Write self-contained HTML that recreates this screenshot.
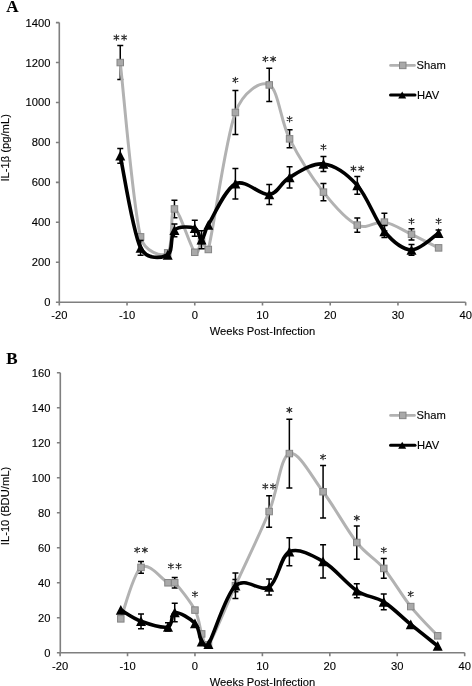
<!DOCTYPE html>
<html><head><meta charset="utf-8"><style>
html,body{margin:0;padding:0;background:#fff;width:472px;height:686px;overflow:hidden}
svg{display:block;will-change:transform;font-family:"Liberation Sans",sans-serif;font-size:11.2px;fill:#000}
text{stroke:#000;stroke-width:0.12px}
</style></head><body>
<svg width="472" height="686" viewBox="0 0 472 686">
<path d="M59.30,22.60V302.20H465.68" fill="none" stroke="#7f7f7f" stroke-width="1.6"/>
<path d="M55.90,302.20H59.30M55.90,262.26H59.30M55.90,222.32H59.30M55.90,182.37H59.30M55.90,142.43H59.30M55.90,102.49H59.30M55.90,62.55H59.30M55.90,22.61H59.30M59.30,302.20V305.60M127.03,302.20V305.60M194.76,302.20V305.60M262.49,302.20V305.60M330.22,302.20V305.60M397.95,302.20V305.60M465.68,302.20V305.60" fill="none" stroke="#7f7f7f" stroke-width="1.6"/>
<text x="50.50" y="306.20" text-anchor="end">0</text>
<text x="50.50" y="266.26" text-anchor="end">200</text>
<text x="50.50" y="226.32" text-anchor="end">400</text>
<text x="50.50" y="186.37" text-anchor="end">600</text>
<text x="50.50" y="146.43" text-anchor="end">800</text>
<text x="50.50" y="106.49" text-anchor="end">1000</text>
<text x="50.50" y="66.55" text-anchor="end">1200</text>
<text x="50.50" y="26.61" text-anchor="end">1400</text>
<text x="59.30" y="319.00" text-anchor="middle">-20</text>
<text x="127.03" y="319.00" text-anchor="middle">-10</text>
<text x="194.76" y="319.00" text-anchor="middle">0</text>
<text x="262.49" y="319.00" text-anchor="middle">10</text>
<text x="330.22" y="319.00" text-anchor="middle">20</text>
<text x="397.95" y="319.00" text-anchor="middle">30</text>
<text x="465.68" y="319.00" text-anchor="middle">40</text>
<path d="M60.30,372.70V652.80H464.68" fill="none" stroke="#7f7f7f" stroke-width="1.6"/>
<path d="M56.90,652.80H60.30M56.90,617.79H60.30M56.90,582.78H60.30M56.90,547.76H60.30M56.90,512.75H60.30M56.90,477.74H60.30M56.90,442.73H60.30M56.90,407.72H60.30M56.90,372.70H60.30M60.10,652.80V656.20M127.53,652.80V656.20M194.96,652.80V656.20M262.39,652.80V656.20M329.82,652.80V656.20M397.25,652.80V656.20M464.68,652.80V656.20" fill="none" stroke="#7f7f7f" stroke-width="1.6"/>
<text x="50.50" y="656.80" text-anchor="end">0</text>
<text x="50.50" y="621.79" text-anchor="end">20</text>
<text x="50.50" y="586.78" text-anchor="end">40</text>
<text x="50.50" y="551.76" text-anchor="end">60</text>
<text x="50.50" y="516.75" text-anchor="end">80</text>
<text x="50.50" y="481.74" text-anchor="end">100</text>
<text x="50.50" y="446.73" text-anchor="end">120</text>
<text x="50.50" y="411.72" text-anchor="end">140</text>
<text x="50.50" y="376.70" text-anchor="end">160</text>
<text x="60.10" y="670.00" text-anchor="middle">-20</text>
<text x="127.53" y="670.00" text-anchor="middle">-10</text>
<text x="194.96" y="670.00" text-anchor="middle">0</text>
<text x="262.39" y="670.00" text-anchor="middle">10</text>
<text x="329.82" y="670.00" text-anchor="middle">20</text>
<text x="397.25" y="670.00" text-anchor="middle">30</text>
<text x="464.68" y="670.00" text-anchor="middle">40</text>
<path d="M120.26,45.57V79.52M117.26,45.57H123.26M117.26,79.52H123.26M174.44,200.15V217.72M171.44,200.15H177.44M171.44,217.72H177.44M235.40,90.51V134.44M232.40,90.51H238.40M232.40,134.44H238.40M269.26,68.34V101.49M266.26,68.34H272.26M266.26,101.49H272.26M289.58,129.85V147.82M286.58,129.85H292.58M286.58,147.82H292.58M323.45,183.57V200.75M320.45,183.57H326.45M320.45,200.75H326.45M357.31,217.92V232.30M354.31,217.92H360.31M354.31,232.30H360.31M384.40,213.33V230.90M381.40,213.33H387.40M381.40,230.90H387.40M411.50,228.71V239.89M408.50,228.71H414.50M408.50,239.89H414.50" fill="none" stroke="#000" stroke-width="1.5"/>
<path d="M120.26,62.55 C123.64,91.61 132.67,205.17 140.58,236.89 C144.38,252.15 162.02,257.53 167.67,252.87 C173.31,248.21 169.93,209.04 174.44,208.94 C178.96,208.84 190.24,246.88 194.76,252.27 C198.90,257.22 199.28,241.75 201.53,241.29 C203.79,240.82 206.96,254.62 208.31,249.48 C213.95,228.01 225.24,139.90 235.40,112.48 C242.98,92.00 260.23,80.52 269.26,84.92 C278.29,89.31 280.55,120.96 289.58,138.84 C298.61,156.71 312.16,177.78 323.45,192.16 C334.74,206.54 347.15,220.12 357.31,225.11 C367.47,230.10 375.37,220.59 384.40,222.12 C393.43,223.65 402.47,230.00 411.50,234.30 C420.53,238.59 434.07,245.62 438.59,247.88" fill="none" stroke="#b2b2b2" stroke-width="3" stroke-linejoin="round"/>
<rect x="117.01" y="59.30" width="6.5" height="6.5" fill="#a9a9a9" stroke="#858585" stroke-width="1"/>
<rect x="137.33" y="233.64" width="6.5" height="6.5" fill="#a9a9a9" stroke="#858585" stroke-width="1"/>
<rect x="164.42" y="249.62" width="6.5" height="6.5" fill="#a9a9a9" stroke="#858585" stroke-width="1"/>
<rect x="171.19" y="205.69" width="6.5" height="6.5" fill="#a9a9a9" stroke="#858585" stroke-width="1"/>
<rect x="191.51" y="249.02" width="6.5" height="6.5" fill="#a9a9a9" stroke="#858585" stroke-width="1"/>
<rect x="198.28" y="238.04" width="6.5" height="6.5" fill="#a9a9a9" stroke="#858585" stroke-width="1"/>
<rect x="205.06" y="246.23" width="6.5" height="6.5" fill="#a9a9a9" stroke="#858585" stroke-width="1"/>
<rect x="232.15" y="109.23" width="6.5" height="6.5" fill="#a9a9a9" stroke="#858585" stroke-width="1"/>
<rect x="266.01" y="81.67" width="6.5" height="6.5" fill="#a9a9a9" stroke="#858585" stroke-width="1"/>
<rect x="286.33" y="135.59" width="6.5" height="6.5" fill="#a9a9a9" stroke="#858585" stroke-width="1"/>
<rect x="320.20" y="188.91" width="6.5" height="6.5" fill="#a9a9a9" stroke="#858585" stroke-width="1"/>
<rect x="354.06" y="221.86" width="6.5" height="6.5" fill="#a9a9a9" stroke="#858585" stroke-width="1"/>
<rect x="381.15" y="218.87" width="6.5" height="6.5" fill="#a9a9a9" stroke="#858585" stroke-width="1"/>
<rect x="408.25" y="231.05" width="6.5" height="6.5" fill="#a9a9a9" stroke="#858585" stroke-width="1"/>
<rect x="435.34" y="244.63" width="6.5" height="6.5" fill="#a9a9a9" stroke="#858585" stroke-width="1"/>
<path d="M120.26,148.42V163.20M117.26,148.42H123.26M117.26,163.20H123.26M140.58,240.49V255.27M137.58,240.49H143.58M137.58,255.27H143.58M174.44,223.91V236.70M171.44,223.91H177.44M171.44,236.70H177.44M194.76,220.32V236.30M191.76,220.32H197.76M191.76,236.30H197.76M201.53,230.70V248.68M198.53,230.70H204.53M198.53,248.68H204.53M235.40,168.59V198.95M232.40,168.59H238.40M232.40,198.95H238.40M269.26,184.57V204.54M266.26,184.57H272.26M266.26,204.54H272.26M289.58,166.80V187.97M286.58,166.80H292.58M286.58,187.97H292.58M323.45,156.41V171.59M320.45,156.41H326.45M320.45,171.59H326.45M357.31,176.38V194.36M354.31,176.38H360.31M354.31,194.36H360.31M384.40,225.51V237.49M381.40,225.51H387.40M381.40,237.49H387.40M411.50,244.48V255.27M408.50,244.48H414.50M408.50,255.27H414.50M438.59,230.10V236.10M435.59,230.10H441.59M435.59,236.10H441.59" fill="none" stroke="#000" stroke-width="1.5"/>
<path d="M120.26,155.81 C123.64,171.16 132.67,231.37 140.58,247.88 C146.62,260.50 162.02,257.80 167.67,254.87 C173.31,251.94 169.93,234.73 174.44,230.30 C178.96,225.88 190.24,226.74 194.76,228.31 C199.28,229.87 199.28,240.26 201.53,239.69 C203.79,239.12 204.10,231.86 208.31,224.91 C213.95,215.59 225.24,188.83 235.40,183.77 C245.56,178.71 260.23,195.62 269.26,194.56 C278.29,193.49 280.55,182.47 289.58,177.38 C298.61,172.29 312.16,162.67 323.45,164.00 C334.74,165.33 347.15,174.12 357.31,185.37 C367.47,196.62 375.37,220.75 384.40,231.50 C393.43,242.25 402.47,249.61 411.50,249.88 C420.53,250.14 434.07,235.90 438.59,233.10" fill="none" stroke="#000" stroke-width="3.6" stroke-linejoin="round"/>
<path d="M120.26,150.81L125.26,160.61L115.26,160.61Z" fill="#000"/>
<path d="M140.58,242.88L145.58,252.68L135.58,252.68Z" fill="#000"/>
<path d="M167.67,249.87L172.67,259.67L162.67,259.67Z" fill="#000"/>
<path d="M174.44,225.30L179.44,235.10L169.44,235.10Z" fill="#000"/>
<path d="M194.76,223.31L199.76,233.11L189.76,233.11Z" fill="#000"/>
<path d="M201.53,234.69L206.53,244.49L196.53,244.49Z" fill="#000"/>
<path d="M208.31,219.91L213.31,229.71L203.31,229.71Z" fill="#000"/>
<path d="M235.40,178.77L240.40,188.57L230.40,188.57Z" fill="#000"/>
<path d="M269.26,189.56L274.26,199.36L264.26,199.36Z" fill="#000"/>
<path d="M289.58,172.38L294.58,182.18L284.58,182.18Z" fill="#000"/>
<path d="M323.45,159.00L328.45,168.80L318.45,168.80Z" fill="#000"/>
<path d="M357.31,180.37L362.31,190.17L352.31,190.17Z" fill="#000"/>
<path d="M384.40,226.50L389.40,236.30L379.40,236.30Z" fill="#000"/>
<path d="M411.50,244.88L416.50,254.68L406.50,254.68Z" fill="#000"/>
<path d="M438.59,228.10L443.59,237.90L433.59,237.90Z" fill="#000"/>
<path d="M141.02,561.59V573.15M138.02,561.59H144.02M138.02,573.15H144.02M174.73,577.52V588.03M171.73,577.52H177.73M171.73,588.03H177.73M235.42,579.45V591.70M232.42,579.45H238.42M232.42,591.70H238.42M269.13,495.77V527.28M266.13,495.77H272.13M266.13,527.28H272.13M289.36,419.27V487.89M286.36,419.27H292.36M286.36,487.89H292.36M323.08,465.49V518.00M320.08,465.49H326.08M320.08,518.00H326.08M356.79,525.88V559.14M353.79,525.88H359.79M353.79,559.14H359.79M383.76,558.62V578.22M380.76,558.62H386.76M380.76,578.22H386.76" fill="none" stroke="#000" stroke-width="1.5"/>
<path d="M120.79,618.84 C124.16,610.26 133.15,573.38 141.02,567.37 C148.88,561.36 162.37,580.21 167.99,582.78 C171.05,584.18 172.36,580.38 174.73,582.78 C179.23,587.33 190.46,601.57 194.96,610.09 C199.46,618.60 199.46,628.09 201.70,633.89 C203.95,639.70 204.75,650.22 208.45,644.92 C214.07,636.87 225.30,607.81 235.42,585.58 C245.53,563.34 260.14,533.53 269.13,511.53 C278.12,489.53 280.37,456.88 289.36,453.58 C298.35,450.28 311.84,476.92 323.08,491.74 C334.32,506.57 346.68,529.73 356.79,542.51 C366.91,555.29 374.77,557.74 383.76,568.42 C392.75,579.10 401.75,595.35 410.74,606.58 C419.73,617.82 433.21,630.95 437.71,635.82" fill="none" stroke="#b2b2b2" stroke-width="3" stroke-linejoin="round"/>
<rect x="117.54" y="615.59" width="6.5" height="6.5" fill="#a9a9a9" stroke="#858585" stroke-width="1"/>
<rect x="137.77" y="564.12" width="6.5" height="6.5" fill="#a9a9a9" stroke="#858585" stroke-width="1"/>
<rect x="164.74" y="579.53" width="6.5" height="6.5" fill="#a9a9a9" stroke="#858585" stroke-width="1"/>
<rect x="171.48" y="579.53" width="6.5" height="6.5" fill="#a9a9a9" stroke="#858585" stroke-width="1"/>
<rect x="191.71" y="606.84" width="6.5" height="6.5" fill="#a9a9a9" stroke="#858585" stroke-width="1"/>
<rect x="198.45" y="630.64" width="6.5" height="6.5" fill="#a9a9a9" stroke="#858585" stroke-width="1"/>
<rect x="205.20" y="641.67" width="6.5" height="6.5" fill="#a9a9a9" stroke="#858585" stroke-width="1"/>
<rect x="232.17" y="582.33" width="6.5" height="6.5" fill="#a9a9a9" stroke="#858585" stroke-width="1"/>
<rect x="265.88" y="508.28" width="6.5" height="6.5" fill="#a9a9a9" stroke="#858585" stroke-width="1"/>
<rect x="286.11" y="450.33" width="6.5" height="6.5" fill="#a9a9a9" stroke="#858585" stroke-width="1"/>
<rect x="319.83" y="488.49" width="6.5" height="6.5" fill="#a9a9a9" stroke="#858585" stroke-width="1"/>
<rect x="353.54" y="539.26" width="6.5" height="6.5" fill="#a9a9a9" stroke="#858585" stroke-width="1"/>
<rect x="380.51" y="565.17" width="6.5" height="6.5" fill="#a9a9a9" stroke="#858585" stroke-width="1"/>
<rect x="407.49" y="603.33" width="6.5" height="6.5" fill="#a9a9a9" stroke="#858585" stroke-width="1"/>
<rect x="434.46" y="632.57" width="6.5" height="6.5" fill="#a9a9a9" stroke="#858585" stroke-width="1"/>
<path d="M141.02,613.94V628.64M138.02,613.94H144.02M138.02,628.64H144.02M167.99,622.69V631.09M164.99,622.69H170.99M164.99,631.09H170.99M174.73,603.26V621.81M171.73,603.26H177.73M171.73,621.81H177.73M235.42,572.97V598.53M232.42,572.97H238.42M232.42,598.53H238.42M269.13,578.92V595.03M266.13,578.92H272.13M266.13,595.03H272.13M289.36,537.79V565.80M286.36,537.79H292.36M286.36,565.80H292.36M323.08,544.79V578.05M320.08,544.79H326.08M320.08,578.05H326.08M356.79,583.65V597.66M353.79,583.65H359.79M353.79,597.66H359.79M383.76,593.98V609.74M380.76,593.98H386.76M380.76,609.74H386.76" fill="none" stroke="#000" stroke-width="1.5"/>
<path d="M120.79,609.91 C124.16,611.81 133.15,618.46 141.02,621.29 C148.88,624.12 162.37,628.35 167.99,626.89 C173.61,625.43 170.24,613.12 174.73,612.54 C179.23,611.95 190.46,618.52 194.96,623.39 C199.46,628.26 199.46,638.30 201.70,641.77 C203.65,644.78 206.60,647.30 208.45,644.22 C214.07,634.89 225.30,595.29 235.42,585.75 C245.53,576.21 260.14,592.64 269.13,586.98 C278.12,581.32 280.37,556.05 289.36,551.79 C298.35,547.53 311.84,554.94 323.08,561.42 C334.32,567.90 346.68,583.91 356.79,590.65 C366.91,597.39 374.77,596.23 383.76,601.86 C392.75,607.49 401.75,617.09 410.74,624.44 C419.73,631.79 433.21,642.38 437.71,645.97" fill="none" stroke="#000" stroke-width="3.6" stroke-linejoin="round"/>
<path d="M120.79,604.91L125.79,614.71L115.79,614.71Z" fill="#000"/>
<path d="M141.02,616.29L146.02,626.09L136.02,626.09Z" fill="#000"/>
<path d="M167.99,621.89L172.99,631.69L162.99,631.69Z" fill="#000"/>
<path d="M174.73,607.54L179.73,617.34L169.73,617.34Z" fill="#000"/>
<path d="M194.96,618.39L199.96,628.19L189.96,628.19Z" fill="#000"/>
<path d="M201.70,636.77L206.70,646.57L196.70,646.57Z" fill="#000"/>
<path d="M208.45,639.22L213.45,649.02L203.45,649.02Z" fill="#000"/>
<path d="M235.42,580.75L240.42,590.55L230.42,590.55Z" fill="#000"/>
<path d="M269.13,581.98L274.13,591.78L264.13,591.78Z" fill="#000"/>
<path d="M289.36,546.79L294.36,556.59L284.36,556.59Z" fill="#000"/>
<path d="M323.08,556.42L328.08,566.22L318.08,566.22Z" fill="#000"/>
<path d="M356.79,585.65L361.79,595.45L351.79,595.45Z" fill="#000"/>
<path d="M383.76,596.86L388.76,606.66L378.76,606.66Z" fill="#000"/>
<path d="M410.74,619.44L415.74,629.24L405.74,629.24Z" fill="#000"/>
<path d="M437.71,640.97L442.71,650.77L432.71,650.77Z" fill="#000"/>
<path d="M116.41,34.70V40.30M113.98,36.10L118.83,38.90M118.83,36.10L113.98,38.90" stroke="#2a2a2a" stroke-width="1.1" stroke-linecap="round"/>
<path d="M124.11,34.70V40.30M121.68,36.10L126.53,38.90M126.53,36.10L121.68,38.90" stroke="#2a2a2a" stroke-width="1.1" stroke-linecap="round"/>
<path d="M235.40,77.20V82.80M232.97,78.60L237.82,81.40M237.82,78.60L232.97,81.40" stroke="#2a2a2a" stroke-width="1.1" stroke-linecap="round"/>
<path d="M265.41,56.20V61.80M262.99,57.60L267.84,60.40M267.84,57.60L262.99,60.40" stroke="#2a2a2a" stroke-width="1.1" stroke-linecap="round"/>
<path d="M273.11,56.20V61.80M270.69,57.60L275.54,60.40M275.54,57.60L270.69,60.40" stroke="#2a2a2a" stroke-width="1.1" stroke-linecap="round"/>
<path d="M289.58,116.40V122.00M287.16,117.80L292.01,120.60M292.01,117.80L287.16,120.60" stroke="#2a2a2a" stroke-width="1.1" stroke-linecap="round"/>
<path d="M323.45,144.40V150.00M321.02,145.80L325.87,148.60M325.87,145.80L321.02,148.60" stroke="#2a2a2a" stroke-width="1.1" stroke-linecap="round"/>
<path d="M353.46,165.80V171.40M351.04,167.20L355.89,170.00M355.89,167.20L351.04,170.00" stroke="#2a2a2a" stroke-width="1.1" stroke-linecap="round"/>
<path d="M361.16,165.80V171.40M358.74,167.20L363.59,170.00M363.59,167.20L358.74,170.00" stroke="#2a2a2a" stroke-width="1.1" stroke-linecap="round"/>
<path d="M411.50,218.30V223.90M409.07,219.70L413.92,222.50M413.92,219.70L409.07,222.50" stroke="#2a2a2a" stroke-width="1.1" stroke-linecap="round"/>
<path d="M438.59,218.30V223.90M436.16,219.70L441.01,222.50M441.01,219.70L436.16,222.50" stroke="#2a2a2a" stroke-width="1.1" stroke-linecap="round"/>
<path d="M137.17,547.20V552.80M134.74,548.60L139.59,551.40M139.59,548.60L134.74,551.40" stroke="#2a2a2a" stroke-width="1.1" stroke-linecap="round"/>
<path d="M144.87,547.20V552.80M142.44,548.60L147.29,551.40M147.29,548.60L142.44,551.40" stroke="#2a2a2a" stroke-width="1.1" stroke-linecap="round"/>
<path d="M170.88,563.40V569.00M168.46,564.80L173.31,567.60M173.31,564.80L168.46,567.60" stroke="#2a2a2a" stroke-width="1.1" stroke-linecap="round"/>
<path d="M178.58,563.40V569.00M176.16,564.80L181.01,567.60M181.01,564.80L176.16,567.60" stroke="#2a2a2a" stroke-width="1.1" stroke-linecap="round"/>
<path d="M194.96,591.30V596.90M192.54,592.70L197.38,595.50M197.38,592.70L192.54,595.50" stroke="#2a2a2a" stroke-width="1.1" stroke-linecap="round"/>
<path d="M265.28,483.50V489.10M262.86,484.90L267.71,487.70M267.71,484.90L262.86,487.70" stroke="#2a2a2a" stroke-width="1.1" stroke-linecap="round"/>
<path d="M272.98,483.50V489.10M270.56,484.90L275.41,487.70M275.41,484.90L270.56,487.70" stroke="#2a2a2a" stroke-width="1.1" stroke-linecap="round"/>
<path d="M289.36,407.20V412.80M286.94,408.60L291.79,411.40M291.79,408.60L286.94,411.40" stroke="#2a2a2a" stroke-width="1.1" stroke-linecap="round"/>
<path d="M323.08,454.20V459.80M320.65,455.60L325.50,458.40M325.50,455.60L320.65,458.40" stroke="#2a2a2a" stroke-width="1.1" stroke-linecap="round"/>
<path d="M356.79,515.20V520.80M354.37,516.60L359.22,519.40M359.22,516.60L354.37,519.40" stroke="#2a2a2a" stroke-width="1.1" stroke-linecap="round"/>
<path d="M383.76,547.30V552.90M381.34,548.70L386.19,551.50M386.19,548.70L381.34,551.50" stroke="#2a2a2a" stroke-width="1.1" stroke-linecap="round"/>
<path d="M410.74,591.20V596.80M408.31,592.60L413.16,595.40M413.16,592.60L408.31,595.40" stroke="#2a2a2a" stroke-width="1.1" stroke-linecap="round"/>
<path d="M390.5,65.40H414.5" stroke="#b2b2b2" stroke-width="2.6" stroke-linecap="round"/>
<rect x="399.5" y="62.15" width="6.5" height="6.5" fill="#a9a9a9" stroke="#858585" stroke-width="1"/>
<text x="416.6" y="69.40">Sham</text>
<path d="M390.5,95.00H415" stroke="#000" stroke-width="3" stroke-linecap="round"/>
<path d="M402.2,91.50L406.2,98.50L398.2,98.50Z" fill="#000"/>
<text x="417" y="99.00">HAV</text>
<path d="M390.5,415.40H414.5" stroke="#b2b2b2" stroke-width="2.6" stroke-linecap="round"/>
<rect x="399.5" y="412.15" width="6.5" height="6.5" fill="#a9a9a9" stroke="#858585" stroke-width="1"/>
<text x="416.6" y="419.40">Sham</text>
<path d="M390.5,445.20H415" stroke="#000" stroke-width="3" stroke-linecap="round"/>
<path d="M402.2,441.70L406.2,448.70L398.2,448.70Z" fill="#000"/>
<text x="417" y="449.20">HAV</text>
<text x="262.5" y="335" text-anchor="middle">Weeks Post-Infection</text>
<text x="262.5" y="685.5" text-anchor="middle">Weeks Post-Infection</text>
<text transform="translate(9.2,147.8) rotate(-90)" text-anchor="middle">IL-1&#946; (pg/mL)</text>
<text transform="translate(9.2,506) rotate(-90)" text-anchor="middle">IL-10 (BDU/mL)</text>
<text x="6.3" y="11.7" font-family="Liberation Serif" font-weight="bold" font-size="17">A</text>
<text x="6.3" y="364.2" font-family="Liberation Serif" font-weight="bold" font-size="17">B</text>
</svg></body></html>
